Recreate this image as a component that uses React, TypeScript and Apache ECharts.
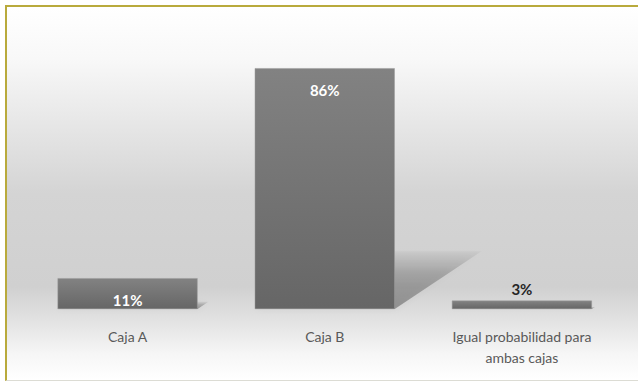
import React, { useEffect, useRef } from "react";
import * as echarts from "echarts";

const categories = ["Caja A", "Caja B", "Igual probabilidad para\nambas cajas"];
const values = [11, 86, 3];
const labelText = ["11%", "86%", "3%"];

export default function App() {
  const ref = useRef<HTMLDivElement>(null);
  useEffect(() => {
    document.body.style.margin = "0";
    const chart = echarts.init(ref.current!, null, { renderer: "svg" });
    const barGrad = new echarts.graphic.LinearGradient(0, 0, 0, 1, [
      { offset: 0, color: "#828282" },
      { offset: 1, color: "#666666" },
    ]);
    chart.setOption({
      animation: false,
      grid: { left: 22, right: 26.5, top: 22, bottom: 71 },
      xAxis: {
        type: "category",
        data: categories,
        axisLine: { show: false },
        axisTick: { show: false },
        axisLabel: {
          color: "#595959",
          fontFamily: "Lato",
          fontSize: 14,
          lineHeight: 21,
          margin: 17,
          interval: 0,
        },
      },
      yAxis: {
        type: "value",
        min: 0,
        max: 100,
        show: false,
        splitLine: { show: false },
      },
      series: [
        {
          type: "custom",
          z: 1,
          renderItem: (params: any, api: any) => {
            const idx = api.value(0);
            const v = api.value(1);
            const base = api.coord([idx, 0]);
            const top = api.coord([idx, v]);
            const h = base[1] - top[1];
            const half = 70;
            const x0 = base[0] - half;
            const x1 = base[0] + half;
            const sh = h * 0.24;
            const sk = h * 0.36;
            return {
              type: "polygon",
              shape: {
                points: [
                  [x0, base[1]],
                  [x1, base[1]],
                  [x1 + sk, base[1] - sh],
                  [x0 + sk, base[1] - sh],
                ],
              },
              style: {
                fill: new echarts.graphic.LinearGradient(0, 1, 0, 0, [
                  { offset: 0, color: "rgba(0,0,0,0.32)" },
                  { offset: 0.6, color: "rgba(0,0,0,0.2)" },
                  { offset: 1, color: "rgba(0,0,0,0.03)" },
                ]),
                shadowBlur: 6,
                shadowColor: "rgba(0,0,0,0.15)",
              },
            };
          },
          data: values.map((v, i) => [i, v]),
          silent: true,
        },
        {
          type: "bar",
          z: 2,
          barWidth: 140,
          data: values.map((v, i) => ({
            value: v,
            label:
              i === 2
                ? {
                    show: true,
                    position: "top",
                    distance: 4,
                    color: "#262626",
                    fontWeight: "bold",
                    fontSize: 15,
                    fontFamily: "Lato",
                    formatter: labelText[i],
                  }
                : {
                    show: true,
                    position: "insideTop",
                    distance: 14,
                    color: "#ffffff",
                    fontWeight: "bold",
                    fontSize: 15,
                    fontFamily: "Lato",
                    formatter: labelText[i],
                  },
          })),
          itemStyle: {
            color: barGrad,
            borderColor: "#9a9a9a",
            borderWidth: 0.5,
          },
        },
      ],
    });
    return () => chart.dispose();
  }, []);
  return (
    <div
      style={{
        position: "fixed",
        left: 0,
        top: 0,
        width: 638,
        height: 381,
        background: "#ffffff",
        overflow: "hidden",
      }}
    >
      <div
        style={{
          position: "absolute",
          left: 5,
          top: 5,
          width: 640,
          height: 373,
          borderTop: "2px solid #b9aa3c",
          borderLeft: "2px solid #b9aa3c",
          borderBottom: "1px solid #dcdcd4",
          background:
            "linear-gradient(to bottom, #ffffff 0%, #f8f8f8 14%, #e8e8e8 30%, #d4d4d4 50%, #d0d0d0 75%, #e2e2e2 84%, #f6f6f6 93%, #ffffff 100%)",
        }}
      >
        <div ref={ref} style={{ width: 640, height: 373 }} />
      </div>
    </div>
  );
}
